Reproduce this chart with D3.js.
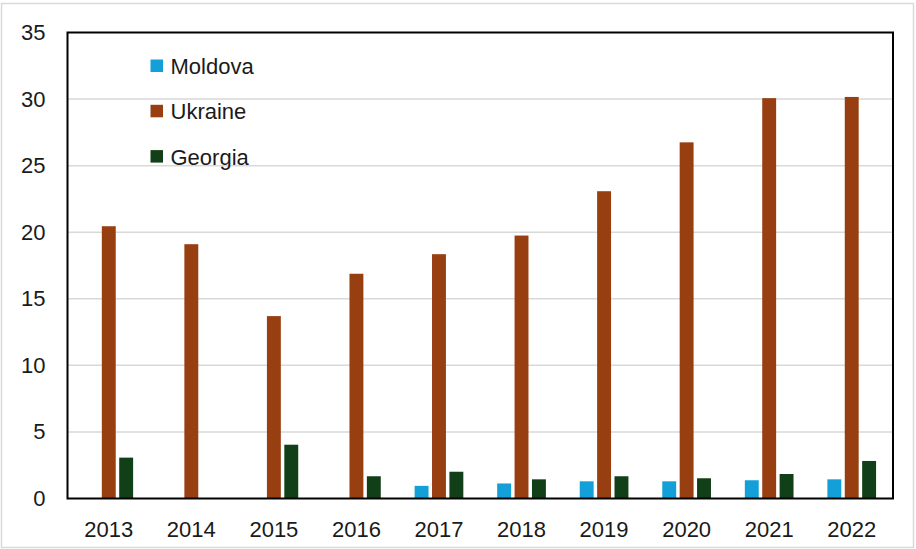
<!DOCTYPE html>
<html>
<head>
<meta charset="utf-8">
<script src="https://cdn.jsdelivr.net/npm/d3@7"></script>
<style>
  html, body { margin: 0; padding: 0; background: #fff; }
  svg { display: block; font-family: "Liberation Sans", Arial, sans-serif; }
</style>
</head>
<body>
<svg id="chart" width="916" height="549"></svg>
<script>
// data
const years = ["2013", "2014", "2015", "2016", "2017", "2018", "2019", "2020", "2021", "2022"];
const seriesNames = ["Moldova", "Ukraine", "Georgia"];
const moldova = [null, null, null, null, 0.95, 1.13, 1.29, 1.29, 1.37, 1.44];
const ukraine = [20.45, 19.1, 13.7, 16.88, 18.35, 19.75, 23.08, 26.75, 30.07, 30.16];
const georgia = [3.07, null, 4.04, 1.67, 2.01, 1.44, 1.67, 1.52, 1.84, 2.82];
const colors = ["#139fd7", "#983f12", "#113f17"];
const yTicks = [0, 5, 10, 15, 20, 25, 30, 35];

const svg = d3.select("#chart");
const margin = { left: 67.5, top: 32.5, right: 23, bottom: 50.5 };
const width = 916 - margin.left - margin.right;
const height = 549 - margin.top - margin.bottom;

// outer frame
svg.append("rect")
  .attr("x", 1.5).attr("y", 3.5)
  .attr("width", 912).attr("height", 544)
  .attr("fill", "#fff")
  .attr("stroke", "#d9d9d9")
  .attr("stroke-width", 1.5);

const g = svg.append("g").attr("transform", "translate(" + margin.left + "," + margin.top + ")");

const x = d3.scaleBand().domain(years).range([0, width]).padding(0);
const y = d3.scaleLinear().domain([0, 35]).range([height, 0]);
const inner = d3.scaleBand().domain(seriesNames).range([0, x.bandwidth() * 0.59]).paddingInner(0.2);
const innerOffset = (x.bandwidth() - x.bandwidth() * 0.59) / 2;

// gridlines
g.append("g").selectAll("line")
  .data(yTicks.filter(d => d > 0 && d < 35))
  .enter().append("line")
  .attr("x1", 0).attr("x2", width)
  .attr("y1", d => y(d)).attr("y2", d => y(d))
  .attr("stroke", "#d9d9d9")
  .attr("stroke-width", 1.5);

// bars
const allSeries = [moldova, ukraine, georgia];
seriesNames.forEach(function (name, si) {
  const vals = allSeries[si];
  g.append("g").selectAll("rect")
    .data(years.map((yr, i) => ({ yr: yr, val: vals[i] })).filter(d => d.val != null))
    .enter().append("rect")
    .attr("x", d => x(d.yr) + innerOffset + inner(name))
    .attr("y", d => y(d.val))
    .attr("width", inner.bandwidth())
    .attr("height", d => y(0) - y(d.val))
    .attr("fill", colors[si]);
});

// plot frame
g.append("rect")
  .attr("x", 0).attr("y", 0)
  .attr("width", width).attr("height", height)
  .attr("fill", "none")
  .attr("stroke", "#000")
  .attr("stroke-width", 2);

// y axis labels
const yAxis = g.append("g")
  .call(d3.axisLeft(y).tickValues(yTicks).tickSize(0).tickPadding(22));
yAxis.select(".domain").remove();
yAxis.selectAll("text")
  .attr("font-size", 22)
  .attr("font-family", "Liberation Sans, Arial, sans-serif")
  .attr("fill", "#1a1a1a");

// x axis labels
const xAxis = g.append("g")
  .attr("transform", "translate(0," + height + ")")
  .call(d3.axisBottom(x).tickSize(0).tickPadding(23));
xAxis.select(".domain").remove();
xAxis.selectAll("text")
  .attr("font-size", 22)
  .attr("font-family", "Liberation Sans, Arial, sans-serif")
  .attr("fill", "#1a1a1a");

// legend
const legend = svg.append("g").attr("transform", "translate(150.5,66)");
seriesNames.forEach(function (name, i) {
  const row = legend.append("g").attr("transform", "translate(0," + (i * 45.3) + ")");
  row.append("rect")
    .attr("x", 0).attr("y", -6.5)
    .attr("width", 12.5).attr("height", 12.5)
    .attr("fill", colors[i]);
  row.append("text")
    .attr("x", 20).attr("y", 0)
    .attr("dy", "0.36em")
    .attr("font-size", 22)
    .attr("fill", "#1a1a1a")
    .text(name);
});
</script>
</body>
</html>
